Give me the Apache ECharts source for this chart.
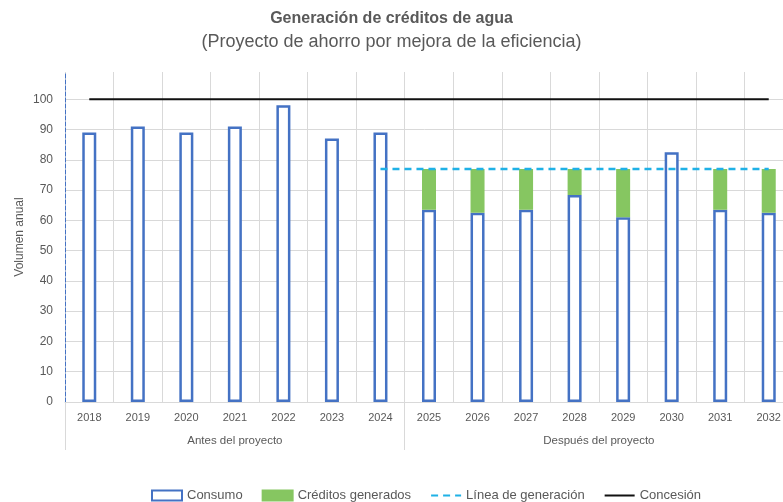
<!DOCTYPE html>
<html>
<head>
<meta charset="utf-8">
<script src="https://cdn.jsdelivr.net/npm/echarts@6/dist/echarts.min.js"></script>
<style>html,body{margin:0;padding:0;background:#fff}#c{width:783px;height:502px}</style>
</head>
<body>
<div id="c"></div>
<script>
const years = ['2018','2019','2020','2021','2022','2023','2024','2025','2026','2027','2028','2029','2030','2031','2032'];
const consumo = [89, 91, 89, 91, 98, 87, 89, 63.5, 62.5, 63.5, 68.4, 61, 82.5, 63.5, 62.5];
const creditos = [null, null, null, null, null, null, null, 13.5, 14.5, 13.5, 8.6, 16, null, 13.5, 14.5];
const lineaGeneracion = [null, null, null, null, null, null, 77, 77, 77, 77, 77, 77, 77, 77, 77];
const concesion = [100, 100, 100, 100, 100, 100, 100, 100, 100, 100, 100, 100, 100, 100, 100];
// group labels placed on a half-year point axis (31 points, 0..15 years)
const groupPoints = ['', '', '', '', '', '', '', 'Antes del proyecto', '', '', '', '', '', '', '', '', '', '', '', '', '', '', 'Después del proyecto', '', '', '', '', '', '', '', ''];
const groupBoundaries = [0, 7];

const FONT = '"Liberation Sans", "DejaVu Sans", sans-serif';
const chart = echarts.init(document.getElementById('c'));
chart.setOption({
  animation: false,
  backgroundColor: '#fff',
  textStyle: { fontFamily: FONT },
  title: [
    { text: 'Generación de créditos de agua', left: 'center', top: 6,
      textStyle: { fontSize: 16, fontWeight: 'bold', color: '#595959', fontFamily: FONT } },
    { text: '(Proyecto de ahorro por mejora de la eficiencia)', left: 'center', top: 28,
      textStyle: { fontSize: 18, fontWeight: 'normal', color: '#595959', fontFamily: FONT } }
  ],
  legend: {
    left: 146, top: 484, itemWidth: 30, itemHeight: 10, itemGap: 19,
    textStyle: { fontSize: 13, color: '#595959' },
    data: [
      { name: 'Consumo', icon: 'rect' },
      { name: 'Créditos generados', icon: 'rect' },
      { name: 'Línea de generación', itemStyle: { opacity: 0 } },
      { name: 'Concesión', itemStyle: { opacity: 0 } }
    ]
  },
  grid: { left: 65, top: 72, width: 728, bottom: 100, containLabel: false, outerBoundsMode: 'none' },
  xAxis: [
    {
      type: 'category', data: years, boundaryGap: true,
      axisLine: { show: true, lineStyle: { color: '#D9D9D9' } },
      axisTick: { show: true, length: 48, interval: (i) => groupBoundaries.indexOf(i) >= 0, lineStyle: { color: '#D9D9D9' } },
      axisLabel: { color: '#595959', fontSize: 11, margin: 10, interval: 0 },
      splitLine: { show: true, lineStyle: { color: '#D9D9D9' } }
    },
    {
      type: 'category', data: groupPoints, boundaryGap: false, position: 'bottom',
      axisLine: { show: false }, axisTick: { show: false }, splitLine: { show: false },
      axisLabel: { color: '#595959', fontSize: 11.5, margin: 33, interval: 0 }
    }
  ],
  yAxis: {
    type: 'value', min: 0, max: 109, interval: 10,
    name: 'Volumen anual', nameLocation: 'middle', nameGap: 39, nameRotate: 90, nameMoveOverlap: false,
    nameTextStyle: { color: '#595959', fontSize: 12 },
    axisLine: { show: true, lineStyle: { color: '#4472C4', type: 'dashed', width: 1 } },
    axisTick: { show: false },
    axisLabel: { color: '#595959', fontSize: 12, margin: 12, showMaxLabel: false },
    splitLine: { show: true, showMaxLine: false, lineStyle: { color: '#D9D9D9' } }
  },
  series: [
    { name: 'Consumo', type: 'bar', stack: 's', data: consumo, barWidth: 14,
      itemStyle: { color: '#ffffff', borderColor: '#4472C4', borderWidth: 2.5 } },
    { name: 'Créditos generados', type: 'bar', stack: 's', data: creditos,
      itemStyle: { color: '#86C661', borderColor: '#86C661', borderWidth: 1.5 } },
    { name: 'Línea de generación', type: 'line', data: lineaGeneracion, symbol: 'none',
      lineStyle: { color: '#1FB1E6', width: 2.5, type: [7, 5] }, itemStyle: { color: '#1FB1E6' } },
    { name: 'Concesión', type: 'line', data: concesion, symbol: 'none',
      lineStyle: { color: '#111111', width: 2 }, itemStyle: { color: '#111111' } }
  ]
});
</script>
</body>
</html>
